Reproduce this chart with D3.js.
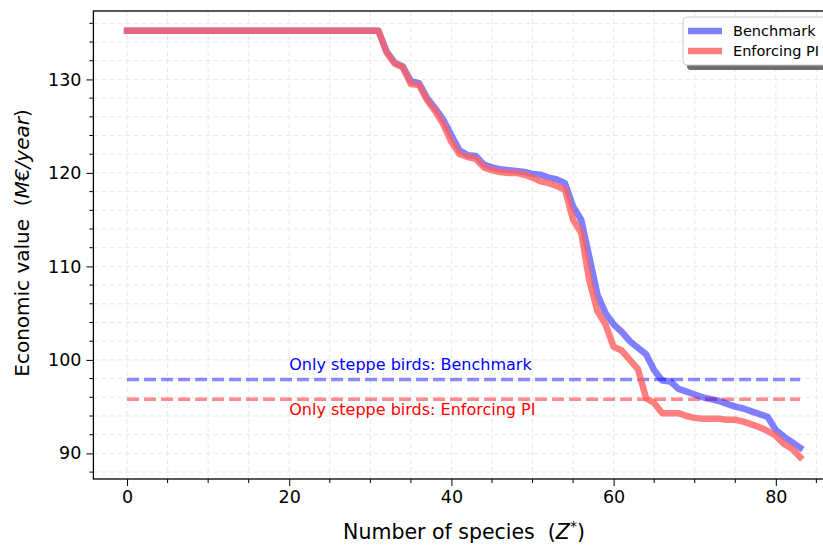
<!DOCTYPE html>
<html>
<head>
<meta charset="utf-8">
<script src="https://cdn.jsdelivr.net/npm/d3@7"></script>
<style>
  body { margin: 0; background: #fff; }
  svg { display: block; font-family: "DejaVu Sans", sans-serif; }
  .label { white-space: pre; }
</style>
</head>
<body>
<svg id="chart" width="823" height="546"></svg>
<script>
  // number of species Z* on the x axis
  var species = d3.range(0, 84);

  var benchmark = [
    135.2, 135.2, 135.2, 135.2, 135.2, 135.2, 135.2, 135.2, 135.2, 135.2,
    135.2, 135.2, 135.2, 135.2, 135.2, 135.2, 135.2, 135.2, 135.2, 135.2,
    135.2, 135.2, 135.2, 135.2, 135.2, 135.2, 135.2, 135.2, 135.2, 135.2,
    135.2, 135.2, 133.0, 131.8, 131.4, 129.8, 129.6, 128.0, 126.9, 125.7,
    124.0, 122.4, 121.9, 121.8, 120.9, 120.6, 120.4, 120.3, 120.2, 120.1,
    119.9, 119.8, 119.5, 119.3, 118.9, 116.4, 115.0, 111.0, 107.0, 105.0,
    103.8, 103.0, 102.0, 101.3, 100.6, 98.9, 97.8, 97.7, 96.9, 96.6,
    96.3, 96.0, 95.8, 95.6, 95.3, 95.0, 94.8, 94.5, 94.2, 93.9,
    92.5, 91.8, 91.2, 90.6
  ];

  var enforcingPI = [
    135.2, 135.2, 135.2, 135.2, 135.2, 135.2, 135.2, 135.2, 135.2, 135.2,
    135.2, 135.2, 135.2, 135.2, 135.2, 135.2, 135.2, 135.2, 135.2, 135.2,
    135.2, 135.2, 135.2, 135.2, 135.2, 135.2, 135.2, 135.2, 135.2, 135.2,
    135.2, 135.2, 132.9, 131.7, 131.3, 129.5, 129.4, 127.8, 126.6, 125.2,
    123.3, 122.0, 121.7, 121.5, 120.6, 120.3, 120.1, 120.0, 120.0, 119.8,
    119.5, 119.1, 118.9, 118.6, 118.2, 115.0, 113.6, 108.5, 105.2, 103.8,
    101.4, 101.0, 100.0, 99.0, 95.9, 95.4, 94.3, 94.3, 94.3, 94.0,
    93.8, 93.7, 93.7, 93.7, 93.6, 93.6, 93.4, 93.1, 92.8, 92.4,
    91.9, 91.0, 90.5, 89.6
  ];

  // only steppe birds reference levels
  var steppeBenchmark = 97.9;
  var steppeEnforcingPI = 95.8;

  var xTicks = [0, 20, 40, 60, 80];
  var xMinorTicks = d3.range(0, 90, 5);
  var yTicks = [90, 100, 110, 120, 130];
  var yMinorTicks = d3.range(88, 138, 2);

  var seriesNames = ['Benchmark', 'Enforcing PI'];
  var seriesColors = ['#0000ff', '#ff0000'];
  var lineWidth = 6.5;

  var svg = d3.select('#chart');

  var plot = { left: 93.4, top: 11, bottom: 479, right: 833.8 };

  var x = d3.scaleLinear()
    .domain([-4.15, 87.15])
    .range([plot.left, plot.right]);

  var y = d3.scaleLinear()
    .domain([87.26, 137.32])
    .range([plot.bottom, plot.top]);

  // grid, on major and minor ticks
  var grid = svg.append('g')
    .attr('class', 'grid')
    .attr('stroke', '#e8e8e8')
    .attr('stroke-width', 1)
    .attr('stroke-dasharray', '5,3');

  grid.selectAll('line.gx')
    .data(xMinorTicks)
    .enter().append('line')
    .attr('class', 'gx')
    .attr('x1', function(d) { return x(d); })
    .attr('x2', function(d) { return x(d); })
    .attr('y1', plot.top)
    .attr('y2', plot.bottom);

  grid.selectAll('line.gy')
    .data(yMinorTicks)
    .enter().append('line')
    .attr('class', 'gy')
    .attr('x1', plot.left)
    .attr('x2', plot.right)
    .attr('y1', function(d) { return y(d); })
    .attr('y2', function(d) { return y(d); });

  // steppe birds dashed levels
  var levels = [steppeBenchmark, steppeEnforcingPI];

  svg.selectAll('line.level')
    .data(levels)
    .enter().append('line')
    .attr('class', 'level')
    .attr('x1', x(0))
    .attr('x2', x(83))
    .attr('y1', function(d) { return y(d); })
    .attr('y2', function(d) { return y(d); })
    .attr('stroke', function(d, i) { return seriesColors[i]; })
    .attr('stroke-opacity', 0.45)
    .attr('stroke-width', 3.5)
    .attr('stroke-dasharray', '12,5');

  svg.append('text')
    .attr('x', x(20))
    .attr('y', y(98.9))
    .attr('fill', '#0000ff')
    .style('font-size', '16px')
    .text('Only steppe birds: Benchmark');

  svg.append('text')
    .attr('x', x(20))
    .attr('y', y(94.1))
    .attr('fill', '#ff0000')
    .style('font-size', '16px')
    .text('Only steppe birds: Enforcing PI');

  // main curves
  var line = d3.line()
    .x(function(d, i) { return x(species[i]); })
    .y(function(d) { return y(d); });

  svg.append('path')
    .datum(benchmark)
    .attr('d', line)
    .attr('fill', 'none')
    .attr('stroke', seriesColors[0])
    .attr('stroke-opacity', 0.5)
    .attr('stroke-width', lineWidth)
    .attr('stroke-linejoin', 'round')
    .attr('stroke-linecap', 'square');

  // soften the blue where the red curve sits on it
  svg.append('path')
    .datum(enforcingPI)
    .attr('d', line)
    .attr('fill', 'none')
    .attr('stroke', '#fff')
    .attr('stroke-opacity', 0.6)
    .attr('stroke-width', lineWidth)
    .attr('stroke-linejoin', 'round')
    .attr('stroke-linecap', 'square');

  svg.append('path')
    .datum(enforcingPI)
    .attr('d', line)
    .attr('fill', 'none')
    .attr('stroke', seriesColors[1])
    .attr('stroke-opacity', 0.5)
    .attr('stroke-width', lineWidth)
    .attr('stroke-linejoin', 'round')
    .attr('stroke-linecap', 'square');

  // axes
  var xAxis = svg.append('g')
    .attr('transform', 'translate(0,' + plot.bottom + ')')
    .call(d3.axisBottom(x).tickValues(xTicks).tickSize(7).tickPadding(5).tickFormat(d3.format('d')));

  xAxis.selectAll('.tick.minor')
    .data(xMinorTicks.filter(function(d) { return xTicks.indexOf(d) < 0; }))
    .enter().append('line')
    .attr('x1', function(d) { return x(d); })
    .attr('x2', function(d) { return x(d); })
    .attr('y2', 4)
    .attr('stroke', '#000');

  var yAxis = svg.append('g')
    .attr('transform', 'translate(' + plot.left + ',0)')
    .call(d3.axisLeft(y).tickValues(yTicks).tickSize(7).tickPadding(5).tickFormat(d3.format('d')));

  yAxis.selectAll('.tick.minor')
    .data(yMinorTicks.filter(function(d) { return yTicks.indexOf(d) < 0; }))
    .enter().append('line')
    .attr('y1', function(d) { return y(d); })
    .attr('y2', function(d) { return y(d); })
    .attr('x2', -4)
    .attr('stroke', '#000');

  svg.selectAll('.domain').remove();
  svg.selectAll('.tick text')
    .style('font-size', '17.5px')
    .attr('fill', '#000')
    .style('font-family', '"DejaVu Sans", sans-serif');

  // frame
  svg.append('rect')
    .attr('x', plot.left)
    .attr('y', plot.top)
    .attr('width', plot.right - plot.left)
    .attr('height', plot.bottom - plot.top)
    .attr('fill', 'none')
    .attr('stroke', '#000')
    .attr('stroke-width', 1.3);

  // axis titles
  var xLabel = svg.append('text')
    .attr('class', 'label')
    .attr('x', 464)
    .attr('y', 539)
    .attr('text-anchor', 'middle')
    .style('font-size', '20.5px');
  xLabel.append('tspan').text('Number of species  (');
  xLabel.append('tspan').style('font-style', 'italic').text('Z');
  xLabel.append('tspan').attr('dy', -8).style('font-size', '14px').text('*');
  xLabel.append('tspan').attr('dy', 8).text(')');

  var yLabel = svg.append('text')
    .attr('class', 'label')
    .attr('transform', 'translate(29,243) rotate(-90)')
    .attr('text-anchor', 'middle')
    .style('font-size', '20px');
  yLabel.append('tspan').text('Economic value  (');
  yLabel.append('tspan').style('font-style', 'italic').text('M€/year');
  yLabel.append('tspan').text(')');

  // legend with shadow
  var legend = svg.append('g')
    .attr('transform', 'translate(683,17)');

  legend.append('rect')
    .attr('x', 4)
    .attr('y', 5)
    .attr('width', 150)
    .attr('height', 48)
    .attr('rx', 4)
    .attr('fill', '#6e6e6e');

  legend.append('rect')
    .attr('width', 150)
    .attr('height', 48)
    .attr('rx', 4)
    .attr('fill', '#fff')
    .attr('stroke', '#cccccc')
    .attr('stroke-width', 1);

  var entry = legend.selectAll('g.entry')
    .data(seriesNames)
    .enter().append('g')
    .attr('class', 'entry')
    .attr('transform', function(d, i) { return 'translate(0,' + (14 + i * 20) + ')'; });

  entry.append('line')
    .attr('x1', 5)
    .attr('x2', 39)
    .attr('stroke', function(d, i) { return seriesColors[i]; })
    .attr('stroke-opacity', 0.5)
    .attr('stroke-width', lineWidth);

  entry.append('text')
    .attr('x', 50)
    .attr('dy', '0.35em')
    .style('font-size', '14.5px')
    .attr('fill', '#000')
    .text(function(d) { return d; });
</script>
</body>
</html>
